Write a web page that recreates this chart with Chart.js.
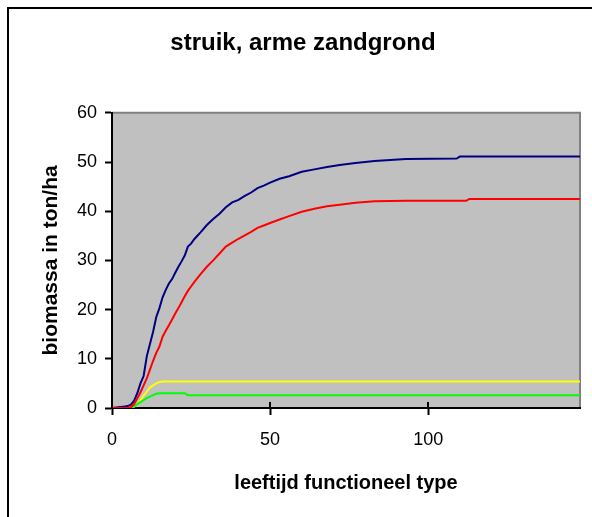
<!DOCTYPE html>
<html>
<head>
<meta charset="utf-8">
<script src="https://cdn.jsdelivr.net/npm/chart.js@4/dist/chart.umd.min.js"></script>
<style>
  html, body { margin: 0; padding: 0; background: #fff; }
  #wrap { width: 592px; height: 517px; }
</style>
</head>
<body>
<div id="wrap"><canvas id="chart" width="592" height="517"></canvas></div>
<script>
// leeftijd (jaren)
const years = [0, 4, 5, 6, 7, 8, 9, 10, 11, 12, 13, 14, 15,
  16, 17, 18, 19, 20, 21, 22, 23, 24, 25, 26, 27, 28,
  30, 32, 34, 36, 38, 40, 42, 44, 46, 48, 50,
  53, 56, 60, 64, 68, 72, 77, 83, 93, 109, 110, 112, 113, 148];

const blueValues = [0, 0.3, 0.4, 0.7, 1.5, 3, 5, 6.5, 10.5, 13, 15.5, 18.5, 20.3,
  22.5, 24, 25.3, 26.2, 27.5, 28.7, 29.8, 31, 32.8, 33.4, 34.3, 35, 35.7,
  37.2, 38.4, 39.5, 40.8, 41.8, 42.3, 43.1, 43.8, 44.7, 45.2, 45.8,
  46.6, 47.1, 48.0, 48.5, 49.0, 49.4, 49.8, 50.2, 50.6, 50.7, 51.1, 51.1, 51.1, 51.1];

const redValues = [0, 0, 0, 0.2, 0.8, 2, 3.2, 4.6, 6, 7.8, 9.6, 11.2, 12.5,
  14.5, 15.7, 16.8, 18, 19.2, 20.3, 21.5, 22.7, 23.8, 24.7, 25.6, 26.4, 27.2,
  28.7, 30.0, 31.4, 32.8, 33.6, 34.4, 35.1, 35.8, 36.6, 37.1, 37.6,
  38.3, 39.0, 39.9, 40.5, 41.0, 41.3, 41.7, 42.0, 42.1, 42.1, 42.1, 42.1, 42.5, 42.5];

const yellowValues = [0, 0, 0, 0, 0.3, 0.8, 1.5, 2.5, 3.3, 4.2, 4.6, 5.0, 5.3,
  5.4, 5.4, 5.4, 5.4, 5.4, 5.4, 5.4, 5.4, 5.4, 5.4, 5.4, 5.4, 5.4,
  5.4, 5.4, 5.4, 5.4, 5.4, 5.4, 5.4, 5.4, 5.4, 5.4, 5.4,
  5.4, 5.4, 5.4, 5.4, 5.4, 5.4, 5.4, 5.4, 5.4, 5.4, 5.4, 5.4, 5.4, 5.4];

const greenValues = [0, 0, 0, 0, 0.3, 0.8, 1.2, 1.6, 2.0, 2.3, 2.6, 2.9, 3.0,
  3.0, 3.0, 3.0, 3.0, 3.0, 3.0, 3.0, 3.0, 2.6, 2.6, 2.6, 2.6, 2.6,
  2.6, 2.6, 2.6, 2.6, 2.6, 2.6, 2.6, 2.6, 2.6, 2.6, 2.6,
  2.6, 2.6, 2.6, 2.6, 2.6, 2.6, 2.6, 2.6, 2.6, 2.6, 2.6, 2.6, 2.6, 2.6];

const xTicks = [0, 50, 100];
const yTicks = [0, 10, 20, 30, 40, 50, 60];

const pts = vals => years.map((x, i) => ({ x: x, y: vals[i] }));

// achtergrond, kader en grijs plotvlak
const frame = {
  id: 'frame',
  beforeDraw(chart) {
    const { ctx, chartArea: a } = chart;
    ctx.save();
    ctx.fillStyle = '#fff';
    ctx.fillRect(0, 0, chart.width, chart.height);
    ctx.strokeStyle = '#000';
    ctx.lineWidth = 2;
    ctx.strokeRect(8, 8, chart.width + 20, chart.height + 20);
    ctx.fillStyle = '#c0c0c0';
    ctx.fillRect(a.left, a.top, a.right - a.left, a.bottom - a.top);
    ctx.strokeStyle = '#808080';
    ctx.beginPath();
    ctx.moveTo(a.left, a.top);
    ctx.lineTo(a.right, a.top);
    ctx.lineTo(a.right, a.bottom);
    ctx.stroke();
    ctx.restore();
  },
  afterDraw(chart) {
    // binnenste deel van de x-streepjes
    const { ctx, chartArea: a, scales } = chart;
    ctx.save();
    ctx.strokeStyle = '#000';
    ctx.lineWidth = 2;
    xTicks.forEach(v => {
      const px = Math.round(scales.x.getPixelForValue(v));
      ctx.beginPath();
      ctx.moveTo(px, a.bottom - 6);
      ctx.lineTo(px, a.bottom);
      ctx.stroke();
    });
    ctx.restore();
  }
};

const padLeft = 26, padRight = 12, padBottom = 0;
const font = 'Liberation Sans, Arial, sans-serif';

new Chart(document.getElementById('chart'), {
  type: 'line',
  data: {
    datasets: [
      { data: pts(redValues), borderColor: '#ff0000' },
      { data: pts(greenValues), borderColor: '#00ff00' },
      { data: pts(yellowValues), borderColor: '#ffff00' },
      { data: pts(blueValues), borderColor: '#000080' }
    ]
  },
  options: {
    responsive: false,
    animation: false,
    layout: { padding: { left: padLeft, right: padRight, top: 10, bottom: padBottom } },
    elements: {
      line: { borderWidth: 2, tension: 0, fill: false },
      point: { radius: 0 }
    },
    plugins: {
      legend: { display: false },
      tooltip: { enabled: false },
      title: {
        display: true,
        text: 'struik, arme zandgrond',
        color: '#000',
        font: { family: font, size: 24, weight: 'bold' },
        padding: { top: 19, bottom: 55 }
      }
    },
    scales: {
      x: {
        type: 'linear',
        min: 0,
        max: 148,
        afterFit: s => { s.height = 517 - 408 - padBottom; },
        afterBuildTicks: s => { s.ticks = xTicks.map(v => ({ value: v })); },
        ticks: { color: '#000', font: { family: font, size: 18 }, padding: 14, maxRotation: 0 },
        grid: { drawOnChartArea: false, tickLength: 7, tickColor: '#000', tickWidth: 2 },
        border: { color: '#000', width: 2 },
        title: {
          display: true,
          text: 'leeftijd functioneel type',
          color: '#000',
          font: { family: font, size: 20, weight: 'bold' },
          padding: { top: 0, bottom: 22 }
        }
      },
      y: {
        min: 0,
        max: 60,
        afterFit: s => { s.width = 112 - padLeft; },
        afterBuildTicks: s => { s.ticks = yTicks.map(v => ({ value: v })); },
        ticks: { color: '#000', font: { family: font, size: 18 }, padding: 8 },
        grid: { drawOnChartArea: false, tickLength: 7, tickColor: '#000', tickWidth: 2 },
        border: { color: '#000', width: 2 },
        title: {
          display: true,
          text: 'biomassa in ton/ha',
          color: '#000',
          font: { family: font, size: 21, weight: 'bold' },
          padding: { top: 13, bottom: 0 }
        }
      }
    }
  },
  plugins: [frame]
});
</script>
</body>
</html>
